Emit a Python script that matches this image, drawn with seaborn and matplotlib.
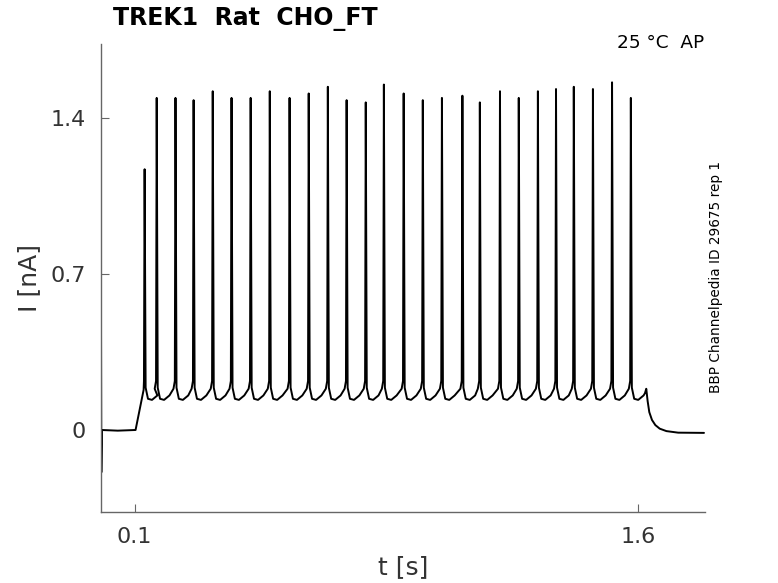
import numpy as np
import pandas as pd
import matplotlib
matplotlib.use('Agg')
import matplotlib.pyplot as plt
import seaborn as sns

sns.set_style('white')
plt.rcParams['font.family'] = ['DejaVu Sans']

# spike times [s] and peak currents [nA]
spike_t = [0.130, 0.166, 0.222, 0.276, 0.333, 0.389, 0.446, 0.503, 0.562,
           0.619, 0.676, 0.732, 0.789, 0.843, 0.902, 0.959, 1.016, 1.077,
           1.129, 1.189, 1.245, 1.302, 1.356, 1.409, 1.466, 1.523, 1.579]
spike_peak = [1.17, 1.49, 1.49, 1.48, 1.52, 1.49, 1.49, 1.52, 1.49,
              1.51, 1.54, 1.48, 1.47, 1.55, 1.51, 1.48, 1.49, 1.50,
              1.47, 1.52, 1.49, 1.52, 1.53, 1.54, 1.53, 1.56, 1.49]

# waveform around one spike (time offset, current), peak replaced per spike
wave_dt = [-0.006, -0.002, 0.0, 0.003, 0.010, 0.022, 0.038]
wave_i = [0.185, 0.22, None, 0.19, 0.14, 0.135, 0.155]

# holding / step parts of the sweep
pre_t = [0.0, 0.001, 0.003, 0.05, 0.103, 0.127]
pre_i = [0.48, -0.19, 0.0, -0.003, 0.0, 0.18]
post_t = [1.621, 1.625, 1.629, 1.634, 1.642, 1.652, 1.665, 1.685, 1.72, 1.797]
post_i = [0.165, 0.185, 0.13, 0.08, 0.045, 0.022, 0.006, -0.005, -0.012, -0.013]

xticks = [0.1, 1.6]
yticks = [0, 0.7, 1.4]

# assemble the trace from the key points
tt, ii = list(pre_t), list(pre_i)
for t0, pk in zip(spike_t, spike_peak):
    for dt, v in zip(wave_dt, wave_i):
        if t0 == spike_t[0] and dt < -0.002:
            continue
        tt.append(t0 + dt)
        ii.append(pk if v is None else v)
tt += post_t
ii += post_i
df = pd.DataFrame({'t': tt, 'I': ii})

fig = plt.figure(figsize=(7.78, 5.83), dpi=100)
ax = fig.add_axes([101/778, 1-512/583, 604/778, 468/583])
sns.lineplot(data=df, x='t', y='I', sort=False, estimator=None,
             color='black', linewidth=1.4, ax=ax)

ax.set_xlim(0.0, 1.8)
ax.set_ylim(-0.368, 1.732)
ax.set_xticks(xticks)
ax.set_xticklabels(['0.1', '1.6'])
ax.set_yticks(yticks)
ax.set_yticklabels(['0', '0.7', '1.4'])
ax.set_xlabel('')
ax.set_ylabel('')
for s in ['top', 'right']:
    ax.spines[s].set_visible(False)
for s in ['left', 'bottom']:
    ax.spines[s].set_color('#666666')
    ax.spines[s].set_linewidth(1.0)
ax.tick_params(bottom=True, left=True, direction='in', length=6, width=0.8,
               color='#666666', labelsize=16, labelcolor='#333333', pad=11)

fig.text(113/778, 1-7/583, 'TREK1  Rat  CHO_FT', fontsize=17,
         fontweight='bold', ha='left', va='top', color='black')
fig.text(704/778, 1-48/583, '25 °C  AP', fontsize=13.3,
         ha='right', va='baseline', color='black')
fig.text(716/778, 1-277/583, 'BBP Channelpedia ID 29675 rep 1', fontsize=9.8,
         rotation=90, ha='center', va='center', color='black')
fig.text(29/778, 1-278/583, 'I [nA]', fontsize=18, rotation=90,
         ha='center', va='center', color='#333333')
fig.text(403/778, 1-567/583, 't [s]', fontsize=18,
         ha='center', va='center', color='#333333')

fig.savefig('out.png', dpi=100)
